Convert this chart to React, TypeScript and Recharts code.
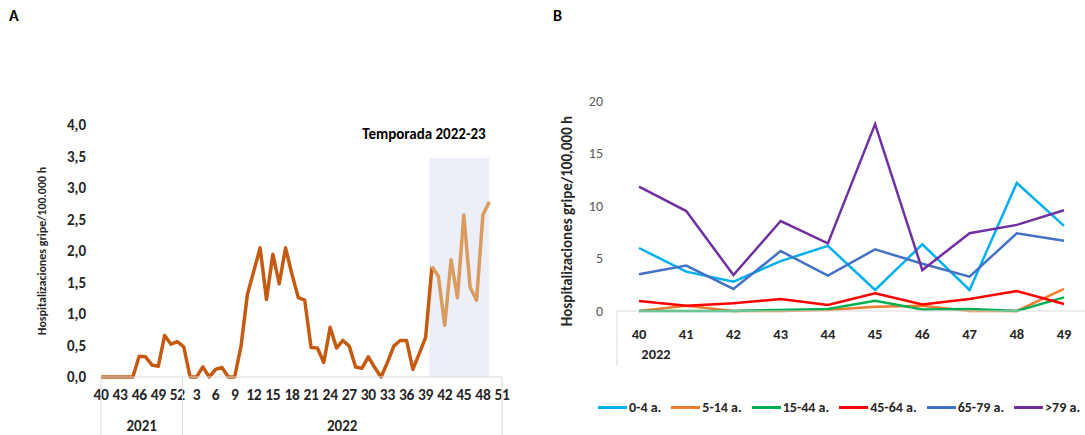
import { LineChart, Line, XAxis, YAxis, ReferenceArea, Legend } from "recharts"

// Panel A: weekly rate, week 40/2021 to week 49/2022
const weeksA = [
    40, 41, 42, 43, 44, 45, 46, 47, 48, 49, 50, 51, 52,
    1, 2, 3, 4, 5, 6, 7, 8, 9, 10, 11, 12, 13, 14, 15, 16, 17, 18, 19, 20,
    21, 22, 23, 24, 25, 26, 27, 28, 29, 30, 31, 32, 33, 34, 35, 36, 37, 38,
    39, 40, 41, 42, 43, 44, 45, 46, 47, 48, 49, 50, 51,
]

const rateA = [
    0, 0, 0, 0, 0, 0, 0.33, 0.32, 0.19, 0.17, 0.66, 0.52, 0.56,
    0.48, 0, 0, 0.16, 0, 0.12, 0.15, 0, 0, 0.49, 1.31, 1.68, 2.05, 1.23,
    1.95, 1.48, 2.05, 1.63, 1.26, 1.22, 0.47, 0.46, 0.23, 0.79, 0.46, 0.58,
    0.49, 0.16, 0.14, 0.32, 0.15, 0, 0.23, 0.49, 0.58, 0.58, 0.12, 0.37,
    0.63, 1.75, 1.6, 0.82, 1.86, 1.26, 2.57, 1.42, 1.22, 2.57, 2.78,
]

const yTicksA = [0, 0.5, 1, 1.5, 2, 2.5, 3, 3.5, 4]
const seasonFrom = 52
const seasonArea = { x1: 51.6, x2: 61, top: 3.48 }

const yearGroups = [
    { label: "2021", from: 0, to: 12.8 },
    { label: "2022", from: 12.8, to: 63 },
]

// Panel B: rates by age group, weeks 40-49 of 2022
const weeksB = ["40", "41", "42", "43", "44", "45", "46", "47", "48", "49"]
const age0_4 = [6.0, 3.75, 2.8, 4.75, 6.2, 2.0, 6.35, 2.0, 12.2, 8.1]
const age5_14 = [0, 0.5, 0, 0, 0.1, 0.4, 0.5, 0, 0, 2.1]
const age15_44 = [0, 0, 0, 0.1, 0.2, 0.98, 0.15, 0.2, 0, 1.3]
const age45_64 = [0.95, 0.5, 0.73, 1.14, 0.57, 1.68, 0.63, 1.14, 1.9, 0.67]
const age65_79 = [3.5, 4.32, 2.1, 5.71, 3.37, 5.87, 4.5, 3.27, 7.4, 6.7]
const age79 = [11.84, 9.52, 3.43, 8.57, 6.44, 17.8, 3.9, 7.4, 8.2, 9.6]
const yTicksB = [0, 5, 10, 15, 20]

const FONT = "Carlito, Calibri, Lato, sans-serif"

const dataA = weeksA.map((w, i) => ({
    i,
    w,
    hist: i < rateA.length && i <= seasonFrom ? rateA[i] : null,
    season: i < rateA.length && i >= seasonFrom ? rateA[i] : null,
}))

const yearMarks = [
    ...yearGroups.map(g => ({ v: g.from, label: null as string | null })),
    { v: yearGroups[yearGroups.length - 1].to, label: null as string | null },
    ...yearGroups.map(g => ({ v: (g.from + g.to) / 2, label: g.label })),
]

const dataB = weeksB.map((week, i) => ({
    week,
    a: age0_4[i],
    b: age5_14[i],
    c: age15_44[i],
    d: age45_64[i],
    e: age65_79[i],
    f: age79[i],
}))

const seriesB = [
    { key: "a", name: "0-4 a.", color: "#00B0F0" },
    { key: "b", name: "5-14 a.", color: "#ED7D31" },
    { key: "c", name: "15-44 a.", color: "#00B050" },
    { key: "d", name: "45-64 a.", color: "#FF0000" },
    { key: "e", name: "65-79 a.", color: "#4472C4" },
    { key: "f", name: ">79 a.", color: "#7030A0" },
]

function YearTick(props: any) {
    const { x, y, index } = props
    const m = yearMarks[index]
    if (!m) return <g />
    if (m.label === null) {
        return <line x1={x} x2={x} y1={y - 28} y2={y + 30} stroke="#D9D9D9" strokeWidth={1} />
    }
    return (
        <text x={x} y={y + 26} textAnchor="middle" fontFamily={FONT} fontWeight="bold" fontSize={15} fill="#262626">
            {m.label}
        </text>
    )
}

function LegendB() {
    return (
        <div style={{ display: "flex", height: 20, alignItems: "center", paddingLeft: 58, fontFamily: FONT, fontWeight: "bold", fontSize: 14, color: "#262626", whiteSpace: "nowrap" }}>
            {seriesB.map(s => (
                <div key={s.key} style={{ display: "flex", alignItems: "center", marginRight: 10 }}>
                    <span style={{ display: "inline-block", width: 29, height: 3, background: s.color, marginRight: 2 }} />
                    <span>{s.name}</span>
                </div>
            ))}
        </div>
    )
}

export default function App() {
    return (
        <div style={{ position: "absolute", left: 0, top: 0, width: 1085, height: 435, overflow: "hidden", background: "#fff" }}>
            <div style={{ position: "absolute", left: 0, top: 0 }}>
                <LineChart width={520} height={435} data={dataA} margin={{ top: 125, right: 18, bottom: 0, left: 0 }}>
                    <ReferenceArea x1={seasonArea.x1} x2={seasonArea.x2} y1={0} y2={seasonArea.top} fill="#ECEFF8" fillOpacity={1} stroke="none" ifOverflow="visible" />
                    <XAxis
                        dataKey="i"
                        type="number"
                        domain={[0, 63]}
                        ticks={weeksA.map((_, i) => i).filter(i => i % 3 === 0)}
                        interval={0}
                        tickFormatter={(v: number) => String(weeksA[v])}
                        height={28}
                        axisLine={{ stroke: "#D9D9D9" }}
                        tickLine={false}
                        tickSize={0}
                        tickMargin={12}
                        tick={{ fontFamily: FONT, fontWeight: "bold", fontSize: 15.5, fill: "#262626", letterSpacing: -0.3 }}
                    />
                    <XAxis
                        xAxisId="yr"
                        dataKey="i"
                        type="number"
                        domain={[0, 63]}
                        ticks={yearMarks.map(m => m.v)}
                        interval={0}
                        height={30}
                        axisLine={false}
                        tickLine={false}
                        tickSize={0}
                        tickMargin={0}
                        tick={(p: any) => <YearTick {...p} />}
                    />
                    <YAxis
                        domain={[0, 4]}
                        ticks={yTicksA}
                        interval={0}
                        width={101}
                        axisLine={false}
                        tickLine={false}
                        tickSize={0}
                        tickMargin={15}
                        tickFormatter={(v: number) => v.toFixed(1).replace(".", ",")}
                        tick={{ fontFamily: FONT, fontWeight: "bold", fontSize: 15, fill: "#262626" }}
                    />
                    <Line dataKey="hist" stroke="#C55A11" strokeWidth={3.5} dot={false} isAnimationActive={false} strokeLinejoin="round" />
                    <Line dataKey="season" stroke="#D99B5E" strokeWidth={3.5} dot={false} isAnimationActive={false} strokeLinejoin="round" />
                </LineChart>
            </div>
            <div style={{ position: "absolute", left: 540, top: 0 }}>
                <LineChart width={560} height={435} data={dataB} margin={{ top: 101, right: 11, bottom: 18, left: 0 }}>
                    <XAxis
                        dataKey="week"
                        height={86}
                        padding={{ left: 22, right: 25 }}
                        axisLine={{ stroke: "#D9D9D9" }}
                        tickLine={false}
                        tickSize={0}
                        tickMargin={18}
                        interval={0}
                        tick={{ fontFamily: FONT, fontWeight: "bold", fontSize: 14.5, fill: "#262626" }}
                    />
                    <YAxis
                        domain={[0, 20]}
                        ticks={yTicksB}
                        interval={0}
                        width={77}
                        axisLine={false}
                        tickLine={false}
                        tickSize={0}
                        tickMargin={14}
                        tick={{ fontFamily: FONT, fontSize: 14, fill: "#595959" }}
                    />
                    <Legend verticalAlign="bottom" content={() => <LegendB />} />
                    {seriesB.map(s => (
                        <Line key={s.key} dataKey={s.key} name={s.name} stroke={s.color} strokeWidth={2.5} dot={false} isAnimationActive={false} />
                    ))}
                </LineChart>
            </div>
            <svg width={1085} height={435} style={{ position: "absolute", left: 0, top: 0, pointerEvents: "none" }}>
                <text x={9} y={21} fontFamily={FONT} fontWeight="bold" fontSize={16} fill="#000">A</text>
                <text x={553} y={21} fontFamily={FONT} fontWeight="bold" fontSize={16} fill="#000">B</text>
                <text transform="translate(46,251) rotate(-90)" textAnchor="middle" fontFamily={FONT} fontWeight="bold" fontSize={12} fill="#262626">
                    Hospitalizaciones gripe/100.000 h
                </text>
                <text transform="translate(572,221) rotate(-90)" textAnchor="middle" fontFamily={FONT} fontWeight="bold" fontSize={15} fill="#262626">
                    Hospitalizaciones gripe/100,000 h
                </text>
                <text x={424} y={139} textAnchor="middle" fontFamily={FONT} fontWeight="bold" fontSize={15} fill="#000">
                    Temporada 2022-23
                </text>
                <line x1={617} x2={617} y1={311} y2={365} stroke="#D9D9D9" strokeWidth={1} />
                <text x={656} y={359} textAnchor="middle" fontFamily={FONT} fontWeight="bold" fontSize={14.5} fill="#262626">
                    2022
                </text>
            </svg>
        </div>
    )
}
